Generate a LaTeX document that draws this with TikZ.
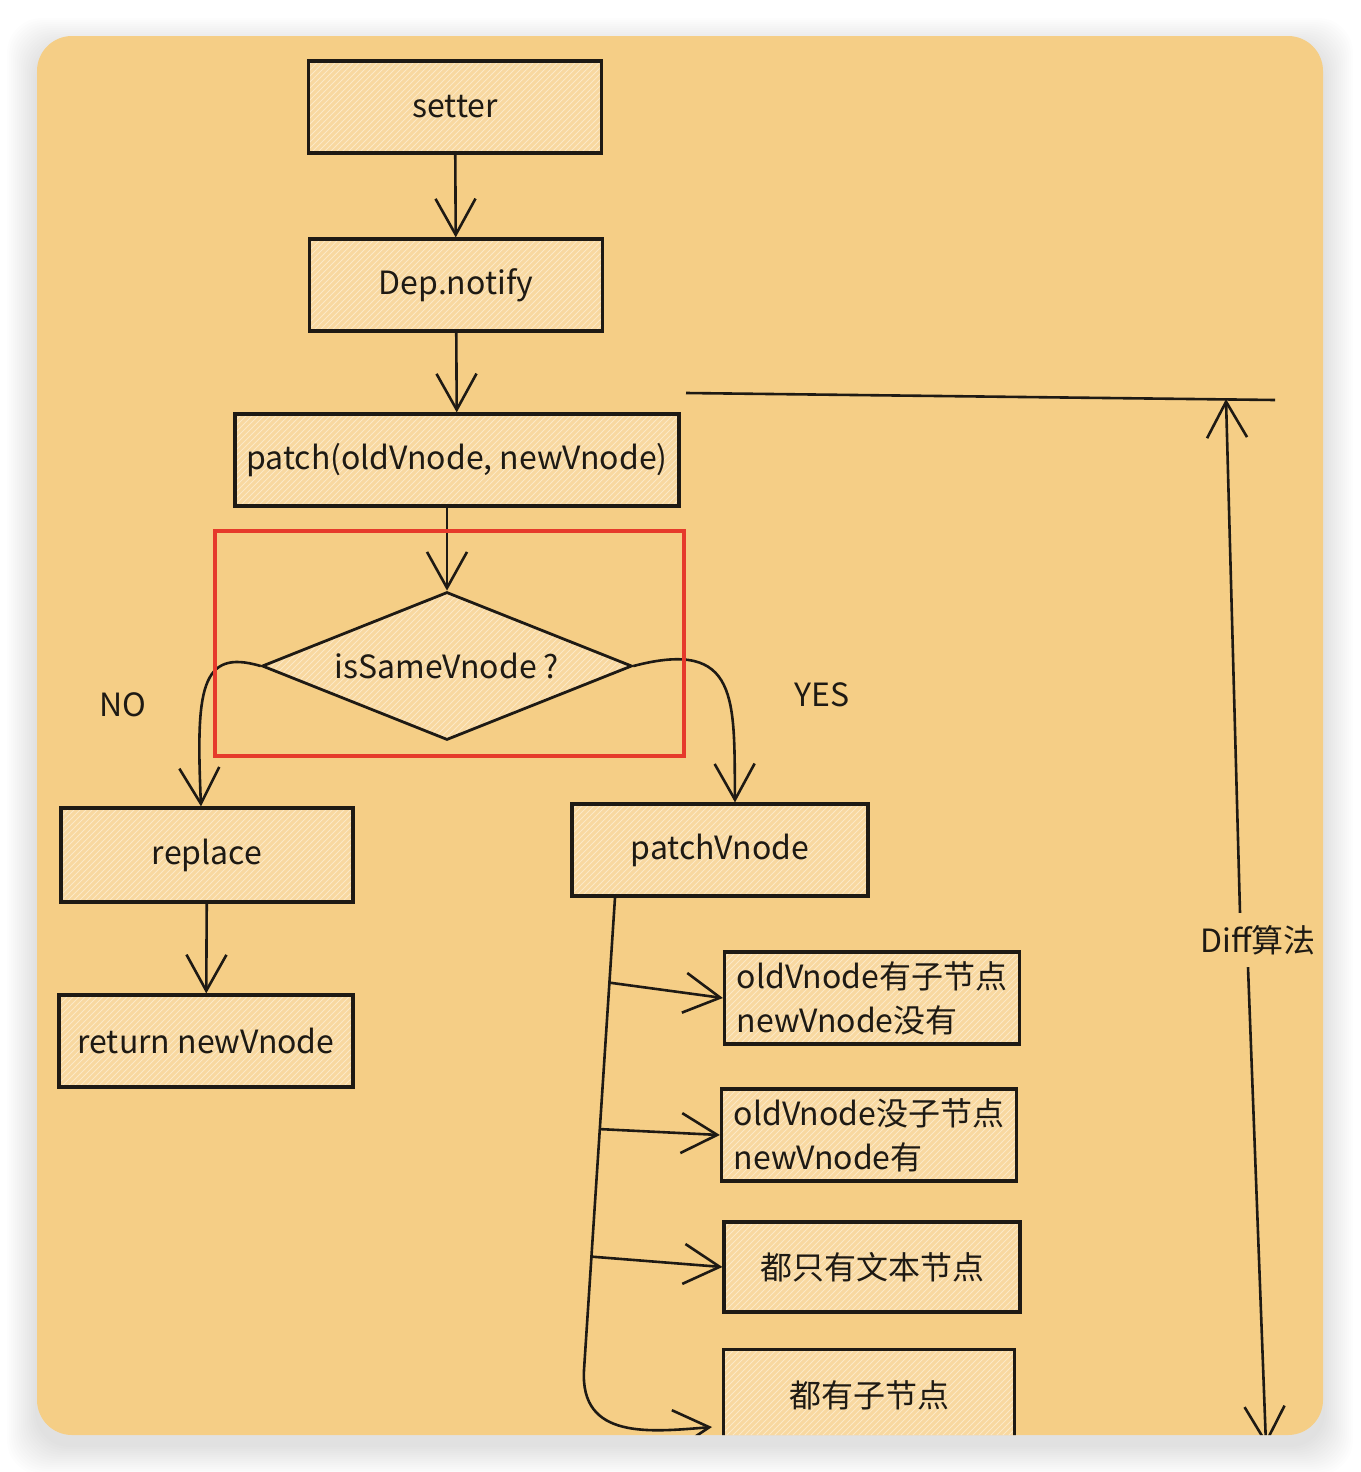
\documentclass[tikz,border=0pt]{standalone}
\usepackage{fontspec}
\setmainfont{Noto Sans CJK SC}
\usetikzlibrary{arrows.meta,shapes.geometric,patterns,calc,positioning}

\definecolor{card}{HTML}{F5CE86}
\definecolor{boxfill}{HTML}{F8D8A0}
\definecolor{hatch}{HTML}{FCE9C6}
\definecolor{ink}{HTML}{1E1A14}
\definecolor{redline}{HTML}{E63A2B}

\begin{document}
\begin{tikzpicture}[
  x=0.5pt, y=-0.5pt,
  block/.style={rectangle, draw=ink, line width=1.6pt, preaction={fill=boxfill},
    pattern=north east lines, pattern color=hatch, text=ink,
    font=\fontsize{16}{22}\selectfont, inner sep=2pt,
    minimum width=146.5pt, minimum height=46pt},
  decision/.style={diamond, aspect=2.5, draw=ink, line width=1.4pt, preaction={fill=boxfill},
    pattern=north east lines, pattern color=hatch, text=ink,
    font=\fontsize{16}{22}\selectfont, inner sep=0pt,
    minimum width=185pt, minimum height=74pt},
  tag/.style={text=ink, font=\fontsize{16}{20}\selectfont, inner sep=6pt},
  wire/.style={draw=ink, line width=1.3pt},
  >={Straight Barb[length=18pt,width=20pt]}
]
  \useasboundingbox (0,0) rectangle (1360,1472);

  % card with soft shadow
  \foreach \s in {2,4,...,30}
    \fill[black, opacity=0.008, rounded corners=17.5pt] (37-\s,48-\s) rectangle (1323+\s,1445+\s);
  \fill[card, rounded corners=17.5pt] (37,36) rectangle (1323,1435);

  \begin{scope}
  \clip[rounded corners=17.5pt] (37,36) rectangle (1323,1435);

  % main column
  \node[block] (setter) at (455,107) {setter};
  \node[block] (dep)    at (456,285) {Dep.notify};
  \node[block, minimum width=222pt] (patch) at (457,460) {patch(oldVnode, newVnode)};
  \node[decision] (same) at (447,666) {isSameVnode ?};

  % NO branch
  \node[block, minimum width=146pt, minimum height=47pt] (rep) at (207,855) {replace};
  \node[block, minimum width=147pt] (ret) at (206,1041) {return newVnode};

  % YES branch
  \node[block, minimum width=148pt] (pv) at (720,850) {patchVnode};
  \node[block, align=left, minimum width=147.5pt] (kid1) at (872,998) {oldVnode有子节点\\newVnode没有};
  \node[block, align=left, minimum width=147.5pt] (kid2) at (869,1135) {oldVnode没子节点\\newVnode有};
  \node[block, minimum width=148pt, minimum height=45pt] (kid3) at (872,1267) {都只有文本节点};
  \node[block, minimum width=145.5pt, minimum height=45.5pt] (kid4) at (869,1395) {都有子节点};

  \node[tag] (no)  at (123,705) {NO};
  \node[tag] (yes) at (822,695) {YES};

  \draw[wire, ->] (setter) -- (dep);
  \draw[wire, ->] (dep) -- (patch);
  \draw[wire, ->] (patch.south -| same.north) -- (same.north);
  \draw[wire, ->] (same.west) .. controls (200,648) and (196,690) .. ([xshift=-3pt]rep.north);
  \draw[wire, ->] (same.east) .. controls (740,638) and (734,700) .. ([xshift=7.5pt]pv.north);
  \draw[wire, ->] (rep) -- (ret);

  % children of patchVnode
  \coordinate (t0) at ([xshift=-52.5pt]pv.south);
  \coordinate (t1) at (584,1370);
  \coordinate (k4in) at (712,1427);
  \draw[wire, ->] (t0) -- (t1) .. controls (580,1440) and (650,1432) .. (k4in);
  \draw[wire, ->] ($(t0)!0.18!(t1)$) -- (kid1.west);
  \draw[wire, ->] ($(t0)!0.49!(t1)$) -- (kid2.west);
  \draw[wire, ->] ($(t0)!0.76!(t1)$) -- (kid3.west);

  % Diff range
  \coordinate (dl) at (686,393);
  \coordinate (dr) at (1275,400);
  \coordinate (dtop) at (1226,399);
  \coordinate (dbot) at (1266,1445);
  \draw[wire] (dl) -- (dr);
  \node[tag] (diff) at (1258,940) {Diff算法};
  \draw[wire, ->] ([xshift=-9pt]diff.north) -- (dtop);
  \draw[wire, ->] ([xshift=-5pt]diff.south) -- (dbot);

  % highlight frame
  \draw[redline, line width=1.6pt] (215,531) rectangle (684,756);
  \end{scope}
\end{tikzpicture}
\end{document}
